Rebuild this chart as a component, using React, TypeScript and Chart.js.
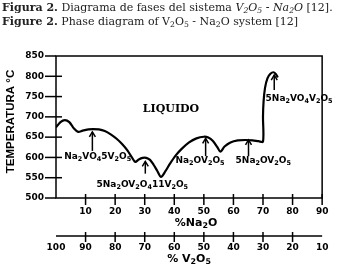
import React, { useEffect, useRef } from "react";
import { Chart, registerables } from "chart.js";

Chart.register(...registerables);

// ---- data ----
const na2oPct = [0, 1.5, 3, 4.5, 6, 7.5, 9, 11, 12.5, 14.5, 16.5, 18.5, 20.5, 22.5, 24.2, 25.5, 26.8, 28, 29.3, 30.5, 31.8, 33, 34.3, 35.5, 37, 38.5, 40.5, 42.5, 45, 47.5, 50, 51.5, 53, 54.5, 55.6, 57, 59, 61.5, 64, 66.5, 68.5, 70, 70, 70.2, 70.7, 71.5, 72.5, 73.5, 74.3, 75];
const tempC = [674, 687, 692, 687, 672, 663, 666, 669, 670, 669, 665, 657, 646, 632, 617, 602, 589, 595, 599, 599, 594, 582, 566, 552, 566, 584, 605, 621, 637, 647, 651, 649, 641, 626, 614, 627, 637, 642, 643, 642, 640, 639, 700, 738, 772, 795, 806, 810, 806, 797];

const yTicks = [500, 550, 600, 650, 700, 750, 800, 850];
const na2oTicks = [10, 20, 30, 40, 50, 60, 70, 80, 90];
const v2o5Ticks = [100, 90, 80, 70, 60, 50, 40, 30, 20, 10];

// phase labels ({} = subscript)
const phaseNames = ["Na{2}VO{4}5V{2}O{5}", "5Na{2}OV{2}O{4}11V{2}O{5}", "Na{2}OV{2}O{5}", "5Na{2}OV{2}O{5}", "5Na{2}VO{4}V{2}O{5}"];
const phaseLabelNa2O = [14.1, 29.2, 48.7, 70.1, 82.2];
const phaseLabelTemp = [602, 532, 591, 591, 745];
const arrowNa2O = [12.3, 30.2, 50.6, 65.1, 73.8];
const arrowFromTemp = [616, 560, 603, 603, 766];
const arrowToTemp = [663, 590, 647, 643, 803];
const liquidLabel = "LIQUIDO";
const liquidNa2O = 38.9;
const liquidTemp = 720;

const yTitle = "TEMPERATURA °C";
const xTitle = "%Na{2}O";
const x2Title = "% V{2}O{5}";

// ---- helpers ----
function parseRich(s: string) {
  const segs: { t: string; sub: boolean }[] = [];
  const re = /\{([^}]*)\}/g;
  let last = 0;
  let m: RegExpExecArray | null;
  while ((m = re.exec(s))) {
    if (m.index > last) segs.push({ t: s.slice(last, m.index), sub: false });
    segs.push({ t: m[1], sub: true });
    last = m.index + m[0].length;
  }
  if (last < s.length) segs.push({ t: s.slice(last), sub: false });
  return segs;
}

function drawRich(ctx: CanvasRenderingContext2D, s: string, cx: number, cy: number, size: number, family: string) {
  const segs = parseRich(s);
  const subSize = size * 0.72;
  const mainFont = `bold ${size}px ${family}`;
  const subFont = `bold ${subSize}px ${family}`;
  let w = 0;
  for (const sg of segs) {
    ctx.font = sg.sub ? subFont : mainFont;
    w += ctx.measureText(sg.t).width;
  }
  let x = cx - w / 2;
  ctx.textBaseline = "middle";
  ctx.textAlign = "left";
  for (const sg of segs) {
    ctx.font = sg.sub ? subFont : mainFont;
    ctx.fillText(sg.t, x, sg.sub ? cy + size * 0.3 : cy);
    x += ctx.measureText(sg.t).width;
  }
}

const decorPlugin = {
  id: "decor",
  afterDraw(chart: any) {
    const ctx: CanvasRenderingContext2D = chart.ctx;
    const { left, right, top, bottom } = chart.chartArea;
    const xs = chart.scales.x;
    const x2 = chart.scales.x2;
    const ys = chart.scales.y;
    ctx.save();
    ctx.strokeStyle = "#000";
    ctx.fillStyle = "#000";
    ctx.lineWidth = 1.5;
    // box
    ctx.strokeRect(left, top, right - left, bottom - top);
    // y ticks
    for (const v of yTicks) {
      const py = ys.getPixelForValue(v);
      ctx.beginPath();
      ctx.moveTo(left - 11, py);
      ctx.lineTo(v === 500 || v === 850 ? left : left + 6, py);
      ctx.stroke();
    }
    // x ticks
    for (const v of na2oTicks) {
      const px = xs.getPixelForValue(v);
      ctx.beginPath();
      ctx.moveTo(px, bottom - 4);
      ctx.lineTo(px, bottom + 7);
      ctx.stroke();
    }
    // second axis
    const ay = x2.top;
    ctx.beginPath();
    ctx.moveTo(x2.left, ay);
    ctx.lineTo(x2.right, ay);
    ctx.stroke();
    for (const v of v2o5Ticks) {
      if (v === 100 || v === 10) continue;
      const px = x2.getPixelForValue(v);
      ctx.beginPath();
      ctx.moveTo(px, ay - 4);
      ctx.lineTo(px, ay + 6);
      ctx.stroke();
    }
    // axis titles
    drawRich(ctx, xTitle, (left + right) / 2 + 7, xs.bottom - 13, 11, "'DejaVu Sans'");
    drawRich(ctx, x2Title, (left + right) / 2, x2.bottom - 11, 11, "'DejaVu Sans'");
    ctx.save();
    ctx.translate(10.5, 121.5);
    ctx.rotate(-Math.PI / 2);
    ctx.font = "bold 11.5px 'Liberation Sans'";
    ctx.textAlign = "center";
    ctx.textBaseline = "middle";
    ctx.fillText(yTitle, 0, 0);
    ctx.restore();
    // arrows
    for (let i = 0; i < arrowNa2O.length; i++) {
      const px = xs.getPixelForValue(arrowNa2O[i]);
      const p1 = ys.getPixelForValue(arrowFromTemp[i]);
      const p2 = ys.getPixelForValue(arrowToTemp[i]);
      ctx.lineWidth = 1.5;
      ctx.beginPath();
      ctx.moveTo(px, p1);
      ctx.lineTo(px, p2);
      ctx.stroke();
      ctx.beginPath();
      ctx.moveTo(px - 3, p2 + 5);
      ctx.lineTo(px, p2);
      ctx.lineTo(px + 3, p2 + 5);
      ctx.stroke();
    }
    // phase labels
    for (let i = 0; i < phaseNames.length; i++) {
      drawRich(ctx, phaseNames[i], xs.getPixelForValue(phaseLabelNa2O[i]), ys.getPixelForValue(phaseLabelTemp[i]), 9, "'DejaVu Sans'");
    }
    ctx.font = "bold 11px 'DejaVu Serif'";
    ctx.textAlign = "center";
    ctx.textBaseline = "middle";
    ctx.fillText(liquidLabel, xs.getPixelForValue(liquidNa2O), ys.getPixelForValue(liquidTemp));
    ctx.restore();
  },
};

export default function App() {
  const ref = useRef<HTMLCanvasElement>(null);
  useEffect(() => {
    if (!ref.current) return;
    const tickFont = { family: "'DejaVu Sans'", size: 9, weight: "bold" as const };
    const chart = new Chart(ref.current, {
      type: "line",
      data: {
        datasets: [
          {
            data: na2oPct.map((x, i) => ({ x, y: tempC[i] })),
            borderColor: "#000",
            borderWidth: 2.2,
            pointRadius: 0,
            tension: 0.3,
            fill: false,
          },
        ],
      },
      options: {
        animation: false,
        responsive: false,
        events: [],
        layout: { padding: { top: 56, left: 0, right: 13, bottom: 0 } },
        plugins: { legend: { display: false }, tooltip: { enabled: false } },
        scales: {
          x: {
            type: "linear",
            position: "bottom",
            weight: 0,
            min: 0,
            max: 90,
            grid: { display: false, drawTicks: false },
            border: { display: false },
            ticks: {
              stepSize: 10,
              autoSkip: false,
              maxRotation: 0,
              padding: 8.6,
              color: "#000",
              font: tickFont,
              callback: (v: any) => (v === 0 ? "" : String(v)),
            },
            afterFit: (s: any) => {
              s.height = 38;
            },
          },
          x2: {
            type: "linear",
            position: "bottom",
            weight: 1,
            min: 10,
            max: 100,
            reverse: true,
            grid: { display: false, drawTicks: false },
            border: { display: false },
            ticks: {
              stepSize: 10,
              autoSkip: false,
              maxRotation: 0,
              padding: 6.2,
              color: "#000",
              font: tickFont,
            },
            afterFit: (s: any) => {
              s.height = 34;
            },
          },
          y: {
            type: "linear",
            min: 500,
            max: 850,
            grid: { display: false, drawTicks: false },
            border: { display: false },
            ticks: {
              stepSize: 50,
              autoSkip: false,
              padding: 12,
              color: "#000",
              font: tickFont,
            },
            afterFit: (s: any) => {
              s.width = 56;
            },
          },
        },
      },
      plugins: [decorPlugin],
    });
    return () => chart.destroy();
  }, []);

  const sub = { fontSize: "0.7em", verticalAlign: "-0.3em", lineHeight: 0 } as React.CSSProperties;
  const line: React.CSSProperties = {
    position: "absolute",
    left: 2,
    fontFamily: "'DejaVu Serif', serif",
    fontSize: "11px",
    lineHeight: "14px",
    whiteSpace: "nowrap",
    color: "#222",
  };
  return (
    <div style={{ position: "absolute", left: 0, top: 0, width: 337, height: 270, background: "#fff", overflow: "hidden" }}>
      <canvas ref={ref} width={337} height={270} style={{ position: "absolute", left: 0, top: 0 }} />
      <div style={{ ...line, top: 1 }}>
        <b>Figura 2.</b> Diagrama de fases del sistema{" "}
        <i>
          V<sub style={sub}>2</sub>O<sub style={sub}>5</sub> - Na<sub style={sub}>2</sub>O
        </i>{" "}
        [12].
      </div>
      <div style={{ ...line, top: 15 }}>
        <b>Figure 2.</b> Phase diagram of V<sub style={sub}>2</sub>O<sub style={sub}>5</sub> - Na<sub style={sub}>2</sub>O system [12]
      </div>
    </div>
  );
}
